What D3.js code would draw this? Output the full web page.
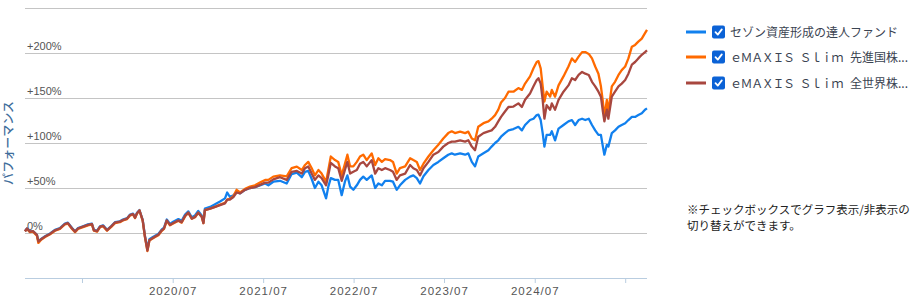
<!DOCTYPE html>
<html><head><meta charset="utf-8">
<script src="https://cdn.jsdelivr.net/npm/d3@7"></script>
<style>
html,body{margin:0;padding:0;background:#fff;}
svg{display:block;}
</style></head>
<body>
<svg id="chart" width="921" height="300"></svg>
<script>
const dates = ["2018-11-13","2018-11-21","2018-12-03","2018-12-15","2018-12-31","2019-01-06","2019-01-17","2019-02-02","2019-02-22","2019-03-14",
"2019-04-03","2019-04-23","2019-05-05","2019-05-22","2019-06-03","2019-06-15","2019-07-05","2019-07-25","2019-08-10","2019-08-18",
"2019-08-31","2019-09-12","2019-09-24","2019-10-10","2019-10-26","2019-11-11","2019-12-01","2019-12-13","2019-12-30","2020-01-11",
"2020-01-23","2020-01-31","2020-02-08","2020-02-18","2020-03-02","2020-03-11","2020-03-21","2020-03-29","2020-04-09","2020-04-21",
"2020-05-04","2020-05-18","2020-05-27","2020-06-07","2020-06-20","2020-07-03","2020-07-24","2020-08-06","2020-08-20","2020-09-02",
"2020-09-16","2020-09-29","2020-10-12","2020-10-26","2020-11-02","2020-11-08","2020-11-29","2020-12-19","2021-01-08","2021-01-28",
"2021-02-06","2021-02-17","2021-03-03","2021-03-16","2021-03-30","2021-04-19","2021-05-09","2021-05-29","2021-06-18","2021-07-09",
"2021-07-22","2021-08-11","2021-09-07","2021-10-04","2021-10-24","2021-11-14","2021-12-04","2021-12-17","2021-12-30","2022-01-13",
"2022-01-26","2022-02-09","2022-02-22","2022-03-12","2022-03-21","2022-03-31","2022-04-17","2022-04-30","2022-05-14","2022-05-27",
"2022-06-06","2022-06-17","2022-06-30","2022-07-14","2022-07-27","2022-08-09","2022-08-23","2022-09-12","2022-09-26","2022-10-09",
"2022-10-23","2022-11-05","2022-11-25","2022-12-07","2022-12-22","2023-01-04","2023-01-25","2023-02-14","2023-02-27","2023-03-13",
"2023-03-26","2023-04-09","2023-04-29","2023-05-19","2023-06-08","2023-06-28","2023-07-18","2023-08-01","2023-08-14","2023-09-04",
"2023-09-24","2023-10-07","2023-10-21","2023-11-03","2023-11-16","2023-12-07","2023-12-27","2024-01-09","2024-01-23","2024-02-05",
"2024-02-16","2024-03-03","2024-03-17","2024-04-06","2024-04-26","2024-05-10","2024-05-23","2024-06-12","2024-06-26","2024-07-09",
"2024-07-16","2024-07-25","2024-08-02","2024-08-09","2024-08-18","2024-09-01","2024-09-08","2024-09-21","2024-10-05","2024-10-25",
"2024-11-14","2024-11-28","2024-12-11","2024-12-25","2025-01-08","2025-01-21","2025-02-04","2025-02-17","2025-03-02","2025-03-15",
"2025-03-25","2025-04-02","2025-04-08","2025-04-18","2025-04-24","2025-05-08","2025-05-21","2025-06-04","2025-06-17","2025-07-01",
"2025-07-14","2025-07-28","2025-08-10","2025-08-23","2025-09-06","2025-09-19","2025-09-27"];

// セゾン資産形成の達人ファンド (%)
const sezon = [2,5,1.5,2,-2,-9,-6.5,-3.5,-0.5,3.5,
5.5,10.5,11.5,5.5,2,5.5,7.5,9.5,10.5,3.5,
2.5,7.5,8.5,3.5,7.5,12,13,15,16.5,20.5,
21.5,17.5,22.5,25.5,14.5,-3,-17.5,-7,-5,-3,
-1,4,6,15,10,12.5,15.5,13.5,20.5,24,
17.5,19.5,24.5,19.5,12.5,27,29,32,35,38.5,
45,40,42,45.5,44,48,50,51,53,55,
53,57,58,55,65.5,67,62,68,69,60,
50,57,53,38.5,51.5,61,59,59,42,57,
64,51.5,48,53,59,62.6,59,64,50,55,
53,58,58,57,48,53,59,62.6,64,61,
55,63,70,75.6,79,83,87,88.5,87,88.5,
87,88.5,79,74,85,88.5,92,96,100,103,
107,111,114,115.5,118,114,120,125.5,127,131,
131.5,125.5,111,96,109,109,113,103,116,120,
124,125.5,120,125.5,127,125.5,127,120,114,109,
109,96,87,98,96,111,114,118,120,122,
125.5,129,129,131,133,137,138.5];

// eMAXIS Slim 先進国株式インデックス (%)
const senshin = [2,4.5,1,1.5,-3,-11,-7.5,-4.5,-1.5,2.5,
4.5,9.5,10.5,4.5,1,4.5,6.5,8.5,9.5,2.5,
1.5,6.5,7.5,2.5,6.5,11,12,14,15.5,19.5,
20.5,16.5,21.5,25,13.5,-4.5,-20,-8.5,-6.5,-4.5,
-2.5,2.5,4.5,13.5,8.5,10.5,13.5,11.5,18.5,22.5,
16,17.5,22.5,18,11,25.5,27,29,31.5,33.5,
37,38,41,48,45,49,51.5,53,56,59,
59,62.6,64,63,72,73.7,70,75.6,79,72,
64,70,66,57,70,85,81,79,64,77,
87,74,74,79,85,87,81,88.5,75.6,83,
79,82,81,79,66,72,74,83,81,79,
70,77,85,92,98,105,111,113,111,112.6,
111,112.6,105,103,118,122,124,127,131,137,
145,150,157,157,161,159,166,174,183,190,
191,183,163,146,157,151.5,159,151.5,164,174,
185,194,190,196,201,201,199,194,185,177,
163,146,129,148,135,163,168,175.6,181,185,
194,207,209,212.6,216,222,225.6];

// eMAXIS Slim 全世界株式 (%)
const zensekai = [2,5,1.5,2,-2,-9.5,-7,-4,-1,3,
5,10,11,5,1.5,5,7,9,10,3,
2,7,8,3,7,11.5,12.6,14.4,16,20,
21,17,22,25,14,-4,-19.5,-8,-6,-4,
-2,3,5,14,9,11,14,12,19,22.6,
16,17.8,22.6,18,11,25.5,27,29,31,33,
37,37,40,45,44,48,50,51,53.5,56,
56,59.6,62,59,68,69,66,72,74,66,
59,64,61,53,64,78,74,72,58,70,
79,66,68,70,77,79,74,81,66,72,
70,72,70,68,59,64,66,75.6,72,70,
64,72,79,87,90,96,100,101.5,101.5,103,
101.5,103,96,92,107,111,113,114,118,124,
129,135,140,140.5,144,140,148,155,163,170,
172,166,148,127,142,137,144,137,148,157,
164,172,170,175.6,179,177,175.6,168,163,157,
151.5,135,124,137,127,151.5,157,163,166,170,
177,187,190,194,198,201,203];

const seriesNames = ["セゾン資産形成の達人ファンド", "ｅＭＡＸＩＳ Ｓｌｉｍ 先進国株...", "ｅＭＡＸＩＳ Ｓｌｉｍ 全世界株..."];
const seriesColors = ["#1180ee", "#ff6a00", "#a8473f"];

const yTickValues = [0, 50, 100, 150, 200, 250];
const yTickLabels = ["0%", "+50%", "+100%", "+150%", "+200%", ""];
const xTickDates = ["2019-07-01","2020-07-01","2021-07-01","2022-07-01","2023-07-01","2024-07-01","2025-07-01"];
const xTickLabels = ["", "2020/07", "2021/07", "2022/07", "2023/07", "2024/07", ""];

const parse = d3.timeParse("%Y-%m-%d");
const svg = d3.select("#chart");
const mLeft = 25, mRight = 647, mTop = 8, mBottom = 278;

const x = d3.scaleTime().domain([parse(dates[0]), parse(dates[dates.length-1])]).range([mLeft, mRight]);
const y = d3.scaleLinear().domain([-50, 250]).range([mBottom, mTop]);

// grid
const grid = svg.append("g").attr("transform", `translate(${mLeft},0)`)
  .call(d3.axisLeft(y).tickValues(yTickValues).tickSize(-(mRight-mLeft)).tickFormat(""));
grid.select(".domain").remove();
grid.selectAll(".tick line").attr("stroke", "#c4c4c4").attr("stroke-width", 1);

// y labels
svg.append("g").selectAll("text").data(yTickValues).join("text")
  .attr("x", mLeft + 2).attr("y", d => y(d) - 3.5)
  .attr("font-family", "'Liberation Sans', Arial, sans-serif").attr("font-size", 11)
  .attr("fill", "#555").text((d,i) => yTickLabels[i]);

// x axis
const xTicks = xTickDates.map(parse);
const xa = svg.append("g").attr("transform", `translate(0,${mBottom})`)
  .call(d3.axisBottom(x).tickValues(xTicks).tickSize(5).tickPadding(4)
    .tickFormat((d,i) => xTickLabels[i]));
xa.select(".domain").attr("stroke", "#b9cde0").attr("d", `M${mLeft},0.5H${mRight}`);
xa.selectAll(".tick line").attr("stroke", "#b9cde0");
xa.selectAll(".tick text").attr("fill", "#555").attr("font-size", 11.5)
  .attr("font-family", "'Liberation Sans', Arial, sans-serif").attr("letter-spacing", "1px");

// y title
svg.append("text").attr("transform", "translate(13,143) rotate(-90)")
  .attr("text-anchor", "middle").attr("font-family", "'Noto Sans CJK JP', sans-serif")
  .attr("font-size", 12).attr("font-weight", 500).attr("fill", "#3f6e9c").text("パフォーマンス");

// lines
const allSeries = [sezon, senshin, zensekai];
const line = d3.line().x((d,i) => x(parse(dates[i]))).y(d => y(d));
allSeries.forEach((s, k) => {
  svg.append("path").datum(s).attr("d", line).attr("fill", "none")
    .attr("stroke", seriesColors[k]).attr("stroke-width", 2.3).attr("stroke-linejoin", "round");
});

// legend
const legY = [32, 57, 83];
const lg = svg.append("g");
seriesNames.forEach((name, k) => {
  const g = lg.append("g").attr("transform", `translate(686,${legY[k]})`);
  g.append("rect").attr("x", 0).attr("y", -1.5).attr("width", 20).attr("height", 3).attr("fill", seriesColors[k]);
  g.append("rect").attr("x", 26).attr("y", -6.5).attr("width", 13).attr("height", 13).attr("rx", 2).attr("fill", "#0b62d6");
  g.append("path").attr("d", "M29.5,0.2 L31.8,2.6 L35.8,-2.6").attr("fill", "none").attr("stroke", "#fff")
    .attr("stroke-width", 1.8).attr("stroke-linecap", "round").attr("stroke-linejoin", "round");
  const t = g.append("text").attr("x", 44).attr("y", 4.5).attr("font-family", "'Noto Sans CJK JP', sans-serif")
    .attr("font-size", 12).attr("fill", "#3b4452");
  if (k === 0) t.text(name);
  else {
    const parts = name.split(" ");
    t.append("tspan").attr("letter-spacing", "-1.4px").text(parts[0]);
    t.append("tspan").attr("dx", 6).attr("letter-spacing", "-1.4px").text(parts[1]);
    t.append("tspan").attr("dx", 8).text(parts[2]);
  }
});

// note
const note = ["※チェックボックスでグラフ表示/非表示の", "切り替えができます。"];
svg.append("g").selectAll("text").data(note).join("text")
  .attr("x", 687).attr("y", (d,i) => 213.5 + i*16.8)
  .attr("font-family", "'Noto Sans CJK JP', sans-serif").attr("font-size", 11.5).attr("fill", "#222")
  .text(d => d);
</script>
</body></html>
